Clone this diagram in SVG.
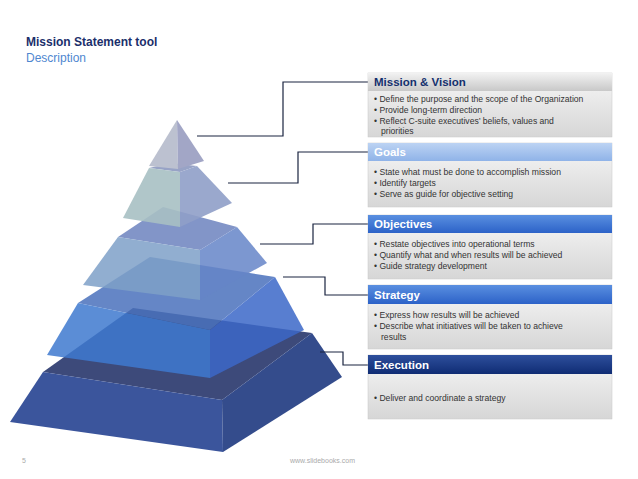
<svg xmlns="http://www.w3.org/2000/svg" width="638" height="479" viewBox="0 0 638 479">
<defs>
<linearGradient id="body" x1="0" y1="0" x2="0" y2="1"><stop offset="0" stop-color="#f7f7f7"/><stop offset="1" stop-color="#d6d6d6"/></linearGradient>
<linearGradient id="hdrDark" x1="0" y1="0" x2="0" y2="1"><stop offset="0" stop-color="#2e4f9c"/><stop offset="1" stop-color="#0f2c74"/></linearGradient>
<linearGradient id="hdrBlue" x1="0" y1="0" x2="0" y2="1"><stop offset="0" stop-color="#5a8fe0"/><stop offset="1" stop-color="#2c62c8"/></linearGradient>
<linearGradient id="hdrLight" x1="0" y1="0" x2="0" y2="1"><stop offset="0" stop-color="#bcd3f3"/><stop offset="1" stop-color="#8fb3e8"/></linearGradient>
<linearGradient id="hdrGrey" x1="0" y1="0" x2="0" y2="1"><stop offset="0" stop-color="#f2f2f2"/><stop offset="1" stop-color="#c8c8c8"/></linearGradient>
</defs>
<style>
text{font-family:"Liberation Sans",Arial,sans-serif}
.t{font-size:8.6px;fill:#333}
.h{font-size:11.5px;font-weight:bold;fill:#fff}
.c{fill:none;stroke:#1a2440;stroke-width:1.2}
.bx{fill:url(#body);stroke:#c8c8c8;stroke-width:0.5}
</style>
<rect width="638" height="479" fill="#fff"/>
<text x="26" y="46" font-size="12" font-weight="bold" fill="#1b2f6b">Mission Statement tool</text>
<text x="26" y="62" font-size="12" fill="#4f87d0">Description</text>
<text x="22" y="463" font-size="7" fill="#aaa">5</text>
<text x="290" y="463" font-size="7" fill="#aaa">www.slidebooks.com</text>

<g id="pyramid">
<g id="layer5">
<polygon points="133,308 43,372 222,400 312,333" fill="#3d4a7a"/>
<polygon points="43,372 222,400 223,452 10,422" fill="#3b559c"/>
<polygon points="222,400 312,333 342,377 223,452" fill="#344c8c"/>
</g>
<g id="layer4" opacity="0.85">
<polygon points="150,257 78,303 210,330 275,277" fill="#4b72bd"/>
<polygon points="78,303 210,330 210,378 47,355" fill="#3f7ad0"/>
<polygon points="210,330 275,277 304,330 210,378" fill="#3c68c8"/>
</g>
<g id="layer3" opacity="0.85">
<polygon points="163,207 118,237 200,250 237,227" fill="#6d83bf"/>
<polygon points="118,237 200,250 200,300 83,285" fill="#7ea0c8"/>
<polygon points="200,250 237,227 267,263 200,300" fill="#6685c8"/>
</g>
<g id="layer2" opacity="0.9">
<polygon points="170,163 149,168 180,172 197,166" fill="#8d9ac0"/>
<polygon points="149,168 180,172 180,227 123,218" fill="#a8c0c4"/>
<polygon points="180,172 197,166 232,203 180,227" fill="#909fc8"/>
</g>
<g id="layer1">
<polygon points="177,120 149,166 178,169" fill="#bcc1d0"/>
<polygon points="177,120 178,169 204,161" fill="#a2a6c6"/>
</g>
</g>

<g id="connectors">
<polyline class="c" points="197,136 283,136 283,82 368,82"/>
<polyline class="c" points="228,183 298,183 298,152 368,152"/>
<polyline class="c" points="260,244 313,244 313,224 368,224"/>
<polyline class="c" points="283,277 325,277 325,295 368,295"/>
<polyline class="c" points="320,352 343,352 343,365 368,365"/>
</g>

<g id="mission">
<rect class="bx" x="368" y="73" width="244" height="64"/>
<rect x="368" y="73" width="244" height="18" fill="url(#hdrGrey)"/>
<text x="374" y="86" class="h" style="fill:#14306e">Mission &amp; Vision</text>
<text x="374" y="102" class="t">•  Define the purpose and the scope of the Organization</text>
<text x="374" y="113" class="t">•  Provide long-term direction</text>
<text x="374" y="124" class="t">•  Reflect C-suite executives’ beliefs, values and</text>
<text x="381" y="134" class="t">priorities</text>
</g>
<g id="goals">
<rect class="bx" x="368" y="143" width="244" height="64"/>
<rect x="368" y="143" width="244" height="18" fill="url(#hdrLight)"/>
<text x="374" y="156" class="h">Goals</text>
<text x="374" y="175" class="t">•  State what must be done to accomplish mission</text>
<text x="374" y="186" class="t">•  Identify targets</text>
<text x="374" y="197" class="t">•  Serve as guide for objective setting</text>
</g>
<g id="objectives">
<rect class="bx" x="368" y="215" width="244" height="64"/>
<rect x="368" y="215" width="244" height="18" fill="url(#hdrBlue)"/>
<text x="374" y="228" class="h">Objectives</text>
<text x="374" y="247" class="t">•  Restate objectives into operational terms</text>
<text x="374" y="258" class="t">•  Quantify what and when results will be achieved</text>
<text x="374" y="269" class="t">•  Guide strategy development</text>
</g>
<g id="strategy">
<rect class="bx" x="368" y="285" width="244" height="64"/>
<rect x="368" y="285" width="244" height="19" fill="url(#hdrBlue)"/>
<text x="374" y="299" class="h">Strategy</text>
<text x="374" y="318" class="t">•  Express how results will be achieved</text>
<text x="374" y="329" class="t">•  Describe what initiatives will be taken to achieve</text>
<text x="381" y="340" class="t">results</text>
</g>
<g id="execution">
<rect class="bx" x="368" y="355" width="244" height="64"/>
<rect x="368" y="355" width="244" height="19" fill="url(#hdrDark)"/>
<text x="374" y="369" class="h">Execution</text>
<text x="374" y="401" class="t">•  Deliver and coordinate a strategy</text>
</g>
</svg>
